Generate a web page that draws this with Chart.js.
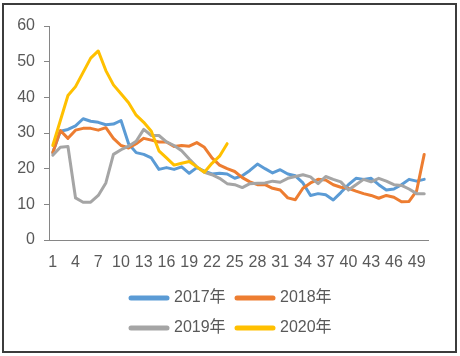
<!DOCTYPE html>
<html><head><meta charset="utf-8">
<script src="https://cdn.jsdelivr.net/npm/chart.js@4"></script>
<style>
html,body{margin:0;padding:0;background:#fff;}
#frame{position:absolute;left:2px;top:3px;width:451px;height:346px;border:2px solid #3c3c3c;}
#c{position:absolute;left:0;top:0;}
</style></head><body>
<div id="frame"></div>
<canvas id="c" width="460" height="356"></canvas>
<script>
const weeks = ['1','2','3','4','5','6','7','8','9','10','11','12','13','14','15','16','17','18','19','20',
  '21','22','23','24','25','26','27','28','29','30','31','32','33','34','35','36','37','38','39','40',
  '41','42','43','44','45','46','47','48','49','50'];
const xTickLabels = ['1','4','7','10','13','16','19','22','25','28','31','34','37','40','43','46','49'];
const seriesNames = ['2017年','2018年','2019年','2020年'];
const y2017 = [24.5,30.5,31,32,34,33.3,33,32.3,32.5,33.5,27,24.5,24,23,19.8,20.3,19.8,20.5,18.7,20.3,
  19.3,18.5,18.7,18.5,17.3,18,19.5,21.3,20,18.8,19.7,18.5,18,16,12.5,13,12.7,11.2,13.3,15.5,
  17.3,17,17.3,15.5,14,14.3,15.5,17,16.5,17];
const y2018 = [24.5,30.7,28.5,30.8,31.3,31.3,30.8,31.5,28.5,26.5,25.8,27,28.5,28,27.5,27.5,26.2,26.5,26.3,27.3,
  26,23,21,20,19.2,17.5,16.3,15.5,15.5,14.5,14,11.8,11.3,14.5,16,17,16.8,15.5,14.8,14.5,
  13.7,13,12.5,11.7,12.5,12,10.7,10.8,13.8,24];
const y2019 = [23.8,26,26.2,11.8,10.6,10.6,12.5,16,24,25.3,26.3,27.7,31,29.3,29.3,27.5,26.5,25,22.7,20.5,
  19,18.3,17.3,15.8,15.5,14.7,15.8,15.9,16,16.5,16.2,17.3,17.8,18.3,17.7,15.8,17.8,17,16.3,14,
  15.5,17,16.3,17.3,16.5,15.5,15.3,14.3,13,13];
const y2020 = [26.5,33.5,40.5,43,47,51,53,47.5,43.5,41,38.5,35,33,30.5,25,23,21,21.5,22,20.5,
  19,21.5,23.5,27];
const colors = ['#5B9BD5','#ED7D31','#A5A5A5','#FFC000'];
const yTicks = {min:0, max:60, step:10};

const FONT = '"Liberation Sans", Arial, "Noto Sans CJK SC", sans-serif';
const TEXT = '#595959';
const AXIS = '#868686';

const allSeries = [y2017, y2018, y2019, y2020];
const datasets = allSeries.map((d, i) => ({
  label: seriesNames[i], data: d, borderColor: colors[i], backgroundColor: colors[i],
  borderWidth: 3, pointRadius: 0, tension: 0, fill: false,
  borderJoinStyle: 'round', borderCapStyle: 'round', order: 3 - i
}));

const legendPlugin = {
  id: 'customLegend',
  afterDraw(chart) {
    const ctx = chart.ctx;
    const rows = [298, 328];
    const cols = [{line: 131, text: 174}, {line: 237, text: 280}];
    ctx.save();
    ctx.font = '16px ' + FONT;
    ctx.textBaseline = 'middle';
    ctx.textAlign = 'left';
    seriesNames.forEach((name, i) => {
      const r = rows[Math.floor(i / 2)], c = cols[i % 2];
      ctx.strokeStyle = colors[i];
      ctx.lineWidth = 5;
      ctx.lineCap = 'round';
      ctx.beginPath();
      ctx.moveTo(c.line, r);
      ctx.lineTo(c.line + 36, r);
      ctx.stroke();
      ctx.fillStyle = TEXT;
      ctx.fillText(name, c.text, r);
    });
    ctx.restore();
  }
};

new Chart(document.getElementById('c'), {
  type: 'line',
  data: { labels: weeks, datasets },
  plugins: [legendPlugin],
  options: {
    responsive: false, animation: false,
    layout: { padding: { left: 0, right: 32, top: 26, bottom: 86 } },
    plugins: { legend: { display: false }, tooltip: { enabled: false } },
    scales: {
      x: {
        offset: true,
        grid: { display: false },
        border: { display: true, color: AXIS, width: 1 },
        ticks: {
          autoSkip: false, maxRotation: 0, minRotation: 0, padding: 5,
          color: TEXT, font: { size: 16, family: FONT },
          callback(v, i) { const l = weeks[i]; return xTickLabels.includes(l) ? l : ''; }
        },
        afterFit(s) { s.height = 30; }
      },
      y: {
        min: yTicks.min, max: yTicks.max,
        ticks: { stepSize: yTicks.step, padding: 9, color: TEXT, font: { size: 16, family: FONT } },
        grid: { drawOnChartArea: false, tickLength: 5, color: AXIS },
        border: { display: true, color: AXIS, width: 1 },
        afterFit(s) { s.width = 49; }
      }
    }
  }
});
</script>
</body></html>
